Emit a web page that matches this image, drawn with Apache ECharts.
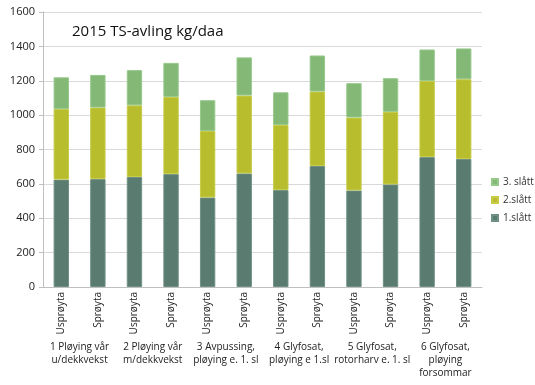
<!DOCTYPE html>
<html><head><meta charset="utf-8">
<script src="https://cdn.jsdelivr.net/npm/echarts@6/dist/echarts.min.js"></script>
<style>html,body{margin:0;padding:0;background:#fff}#c{width:535px;height:385px}</style>
</head><body><div id="c"></div>
<script>
const categories = ['Usprøyta','Sprøyta','Usprøyta','Sprøyta','Usprøyta','Sprøyta','Usprøyta','Sprøyta','Usprøyta','Sprøyta','Usprøyta','Sprøyta'];
const groups = ['1 Pløying vår\nu/dekkvekst','2 Pløying vår\nm/dekkvekst','3 Avpussing,\npløying e. 1. sl','4 Glyfosat,\npløying e 1.sl','5 Glyfosat,\nrotorharv e. 1. sl','6 Glyfosat,\npløying\nforsommar'];
const slatt1 = [625, 628, 640, 657, 521, 661, 564, 704, 562, 597, 756, 745];
const slatt2 = [410, 416, 417, 449, 387, 453, 379, 433, 424, 422, 443, 464];
const slatt3 = [185, 190, 205, 198, 179, 222, 190, 210, 200, 196, 183, 179];
const yTicks = {min: 0, max: 1600, interval: 200};
const font = 'Open Sans, Noto Sans, sans-serif';

const chart = echarts.init(document.getElementById('c'));
const mk = (name, data, color, border) => ({
  name, type: 'bar', stack: 'a', data, barWidth: '42%',
  itemStyle: {color, borderColor: border, borderWidth: 1}
});
chart.setOption({
  animation: false,
  title: {text: '2015 TS-avling kg/daa', left: 67, top: 19,
    textStyle: {fontFamily: font, fontSize: 15, fontWeight: 'normal', color: '#111'}},
  legend: {orient: 'vertical', left: 486, top: 172, icon: 'rect', itemWidth: 6, itemHeight: 6, itemGap: 8,
    data: ['3. slått', '2.slått', '1.slått'],
    textStyle: {fontFamily: font, fontSize: 10, color: '#333'}},
  grid: {left: 43, right: 53, top: 12, bottom: 98},
  xAxis: [
    {type: 'category', data: categories, position: 'bottom',
      axisLine: {lineStyle: {color: '#bfbfbf'}},
      axisTick: {interval: 0, length: 46, lineStyle: {color: '#d0d0d0'}},
      axisLabel: {interval: 0, rotate: 90, margin: 5, fontFamily: font, fontSize: 10, color: '#222'}},
    {type: 'category', data: groups, position: 'bottom', offset: 0,
      axisLine: {show: false},
      axisTick: {interval: 0, length: 93, lineStyle: {color: '#d0d0d0'}},
      axisLabel: {interval: 0, margin: 54, lineHeight: 13, fontFamily: font, fontSize: 10, color: '#222'}}
  ],
  yAxis: {type: 'value', min: yTicks.min, max: yTicks.max, interval: yTicks.interval,
    axisLine: {show: true, lineStyle: {color: '#bfbfbf'}},
    axisTick: {show: true, inside: false, length: 4, lineStyle: {color: '#bfbfbf'}},
    splitLine: {lineStyle: {color: '#d9d9d9'}},
    axisLabel: {margin: 8, fontFamily: font, fontSize: 11, color: '#222', formatter: v => String(v)}},
  series: [
    mk('1.slått', slatt1, '#5a7b6f', '#6f9184'),
    mk('2.slått', slatt2, '#b8bd2d', '#c6cb48'),
    mk('3. slått', slatt3, '#83b877', '#97c98b')
  ]
});
</script></body></html>
